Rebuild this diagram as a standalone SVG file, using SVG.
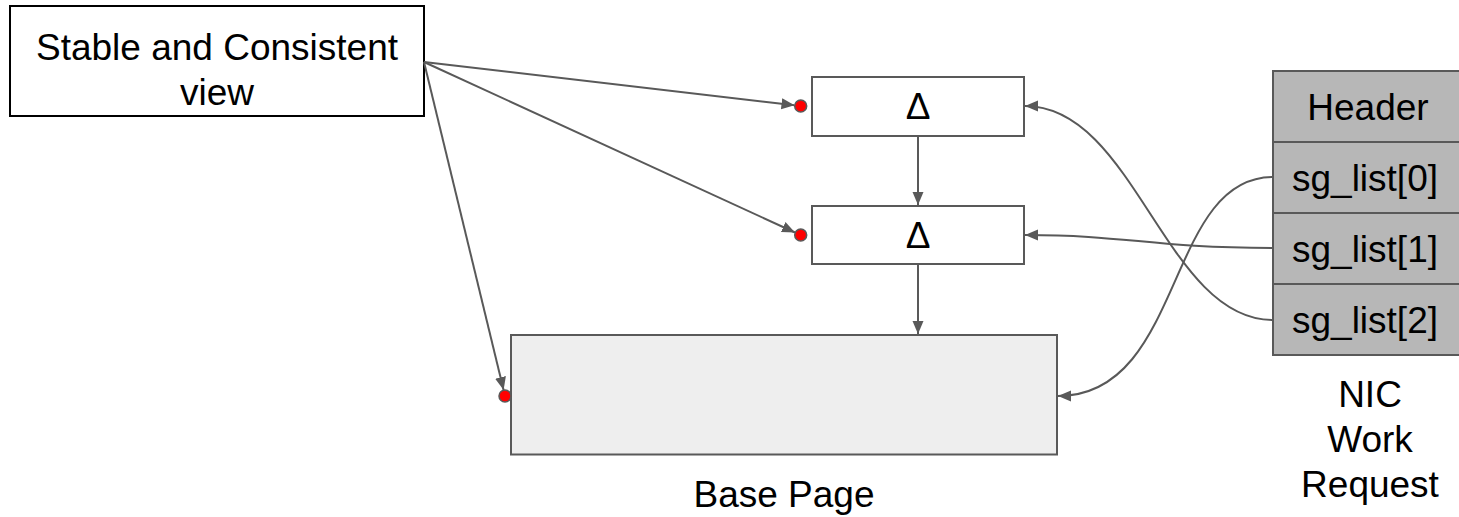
<svg xmlns="http://www.w3.org/2000/svg" width="1459" height="517" viewBox="0 0 1459 517">
<style>
text{font-family:"Liberation Sans",Arial,sans-serif;font-size:37px;fill:#000;text-anchor:middle}
.box{fill:#fff;stroke:#595959;stroke-width:2}
.cell{fill:#b7b7b7;stroke:#595959;stroke-width:2}
.con{fill:none;stroke:#595959;stroke-width:2}
.dot{fill:#ff0000;stroke:#595959;stroke-width:1.5}
</style>
<defs>
<marker id="ah" markerUnits="userSpaceOnUse" markerWidth="14" markerHeight="12" refX="13" refY="6" orient="auto">
<path d="M0,0.5 L13,6 L0,11.5 z" fill="#595959"/>
</marker>
</defs>
<rect width="1459" height="517" fill="#fff"/>
<g id="stable-view">
<rect x="10" y="6" width="414" height="110" fill="#fff" stroke="#000" stroke-width="2"/>
<text x="217" y="60">Stable and Consistent</text>
<text x="217" y="105">view</text>
</g>
<g id="delta1">
<rect class="box" x="812" y="77" width="212" height="59"/>
<text x="918" y="119">Δ</text>
</g>
<g id="delta2">
<rect class="box" x="812" y="206" width="212" height="58"/>
<text x="918" y="248">Δ</text>
</g>
<g id="base-page">
<rect x="511" y="335" width="546" height="119.5" fill="#eeeeee" stroke="#595959" stroke-width="2"/>
<text x="784" y="507">Base Page</text>
</g>
<g id="nic-work-request">
<rect class="cell" x="1273" y="71" width="189" height="71"/>
<rect class="cell" x="1273" y="142" width="189" height="71"/>
<rect class="cell" x="1273" y="213" width="189" height="71"/>
<rect class="cell" x="1273" y="284" width="189" height="71"/>
<text x="1368" y="120">Header</text>
<text x="1365" y="191">sg_list[0]</text>
<text x="1365" y="262">sg_list[1]</text>
<text x="1365" y="333">sg_list[2]</text>
<text x="1370" y="407">NIC</text>
<text x="1370" y="452">Work</text>
<text x="1370" y="497">Request</text>
</g>
<g id="connectors">
<line class="con" x1="424" y1="62" x2="794.5" y2="105.3" marker-end="url(#ah)"/>
<line class="con" x1="424" y1="62" x2="795" y2="232.5" marker-end="url(#ah)"/>
<line class="con" x1="424" y1="62" x2="503.6" y2="390" marker-end="url(#ah)"/>
<line class="con" x1="918" y1="136" x2="918" y2="205" marker-end="url(#ah)"/>
<line class="con" x1="918" y1="264" x2="918" y2="334" marker-end="url(#ah)"/>
<path class="con" d="M1273,177 C1165,177 1185,396 1058,396" marker-end="url(#ah)"/>
<path class="con" d="M1273,248 C1150,248 1130,235 1025,235" marker-end="url(#ah)"/>
<path class="con" d="M1273,320 C1165,320 1135,106 1025,106" marker-end="url(#ah)"/>
</g>
<g id="dots">
<circle class="dot" cx="800.7" cy="106" r="6"/>
<circle class="dot" cx="800.7" cy="235" r="6"/>
<circle class="dot" cx="505" cy="396" r="6"/>
</g>
</svg>
